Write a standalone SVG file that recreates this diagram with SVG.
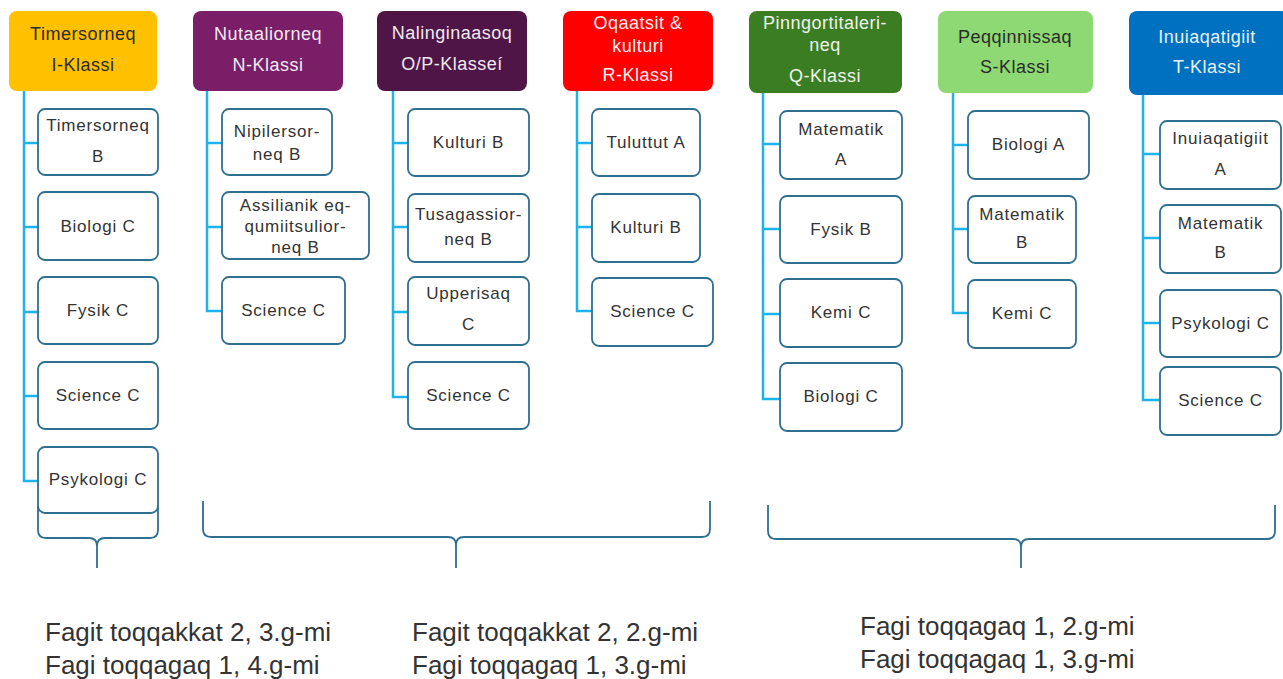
<svg xmlns="http://www.w3.org/2000/svg" width="1283" height="679" viewBox="0 0 1283 679">
<style>
.hd{stroke:none}
.ht{font-family:"Liberation Sans",Arial,sans-serif;font-size:18px;letter-spacing:0.5px;text-anchor:middle}
.hl{fill:#F0EAF0}
.hk{fill:#2b2b2b}
.bx{fill:#fff;stroke:#2F6F8F;stroke-width:1.8}
.ct{font-family:"Liberation Sans",Arial,sans-serif;font-size:17px;letter-spacing:0.8px;fill:#333;text-anchor:middle}
.bus{fill:none;stroke:#1DB4EE;stroke-width:2.5}
.br{fill:none;stroke:#2F6F8F;stroke-width:1.8}
.ft{font-family:"Liberation Sans",Arial,sans-serif;font-size:26px;fill:#333}
</style>
<rect width="1283" height="679" fill="#fff"/>

<g id="connectors">
<path class="bus" d="M24,91V481H38M24,143H38M24,227H38M24,312H38M24,396H38"/>
<path class="bus" d="M207,91V311H222M207,143H222M207,227H222"/>
<path class="bus" d="M393,91V397H408M393,143H408M393,227H408M393,312H408"/>
<path class="bus" d="M577,91V311H592M577,143H592M577,227H592"/>
<path class="bus" d="M763,93V399H780M763,144H780M763,229H780M763,314H780"/>
<path class="bus" d="M953,93V313H968M953,145H968M953,229H968"/>
<path class="bus" d="M1143,95V400H1160M1143,154H1160M1143,238H1160M1143,323H1160"/>
</g>

<g id="h1"><rect class="hd" x="9" y="11" width="148" height="80" rx="8" fill="#FFC000"/>
<text class="ht hk" x="83" y="40">Timersorneq</text><text class="ht hk" x="83" y="71">I-Klassi</text></g>
<g id="h2"><rect class="hd" x="193" y="11" width="150" height="80" rx="8" fill="#7A1E68"/>
<text class="ht hl" x="268" y="40">Nutaaliorneq</text><text class="ht hl" x="268" y="71">N-Klassi</text></g>
<g id="h3"><rect class="hd" x="377" y="11" width="150" height="80" rx="8" fill="#4F1547"/>
<text class="ht hl" x="452" y="39">Nalinginaasoq</text><text class="ht hl" x="452" y="70">O/P-Klasseí</text></g>
<g id="h4"><rect class="hd" x="563" y="11" width="150" height="80" rx="8" fill="#FF0000"/>
<text class="ht" fill="#FFEDED" x="638" y="29">Oqaatsit &amp;</text><text class="ht" fill="#FFEDED" x="638" y="52">kulturi</text><text class="ht" fill="#FFEDED" x="638" y="81">R-Klassi</text></g>
<g id="h5"><rect class="hd" x="749" y="11" width="153" height="82" rx="8" fill="#3B7D23"/>
<text class="ht" fill="#EEF4EA" x="825" y="29">Pinngortitaleri-</text><text class="ht" fill="#EEF4EA" x="825" y="51">neq</text><text class="ht" fill="#EEF4EA" x="825" y="82">Q-Klassi</text></g>
<g id="h6"><rect class="hd" x="938" y="11" width="155" height="82" rx="8" fill="#8ED973"/>
<text class="ht hk" x="1015" y="43">Peqqinnissaq</text><text class="ht hk" x="1015" y="73">S-Klassi</text></g>
<g id="h7"><rect class="hd" x="1129" y="11" width="160" height="84" rx="8" fill="#0070C0"/>
<text class="ht" fill="#E6F0FA" x="1207" y="43">Inuiaqatigiit</text><text class="ht" fill="#E6F0FA" x="1207" y="73">T-Klassi</text></g>

<g id="c1a"><rect class="bx" x="38" y="109" width="120" height="66" rx="7"/><text class="ct" x="98" y="131">Timersorneq</text><text class="ct" x="98" y="162">B</text></g>
<g id="c1b"><rect class="bx" x="38" y="192" width="120" height="68" rx="7"/><text class="ct" x="98" y="232">Biologi C</text></g>
<g id="c1c"><rect class="bx" x="38" y="277" width="120" height="67" rx="7"/><text class="ct" x="98" y="316">Fysik C</text></g>
<g id="c1d"><rect class="bx" x="38" y="362" width="120" height="67" rx="7"/><text class="ct" x="98" y="401">Science C</text></g>
<g id="c1e"><rect class="bx" x="38" y="447" width="120" height="66" rx="7"/><text class="ct" x="98" y="485">Psykologi C</text></g>

<g id="c2a"><rect class="bx" x="222" y="109" width="110" height="66" rx="7"/><text class="ct" x="277" y="137">Nipilersor-</text><text class="ct" x="277" y="160">neq B</text></g>
<g id="c2b"><rect class="bx" x="222" y="192" width="147" height="67" rx="7"/><text class="ct" x="295.5" y="211">Assilianik eq-</text><text class="ct" x="295.5" y="232">qumiitsulior-</text><text class="ct" x="295.5" y="253">neq B</text></g>
<g id="c2c"><rect class="bx" x="222" y="277" width="123" height="67" rx="7"/><text class="ct" x="283.5" y="316">Science C</text></g>

<g id="c3a"><rect class="bx" x="408" y="109" width="121" height="67" rx="7"/><text class="ct" x="468.5" y="148">Kulturi B</text></g>
<g id="c3b"><rect class="bx" x="408" y="194" width="121" height="68" rx="7"/><text class="ct" x="468.5" y="220">Tusagassior-</text><text class="ct" x="468.5" y="245">neq B</text></g>
<g id="c3c"><rect class="bx" x="408" y="277" width="121" height="68" rx="7"/><text class="ct" x="468.5" y="299">Upperisaq</text><text class="ct" x="468.5" y="330">C</text></g>
<g id="c3d"><rect class="bx" x="408" y="362" width="121" height="67" rx="7"/><text class="ct" x="468.5" y="401">Science C</text></g>

<g id="c4a"><rect class="bx" x="592" y="109" width="108" height="67" rx="7"/><text class="ct" x="646" y="148">Tuluttut A</text></g>
<g id="c4b"><rect class="bx" x="592" y="194" width="108" height="68" rx="7"/><text class="ct" x="646" y="233">Kulturi B</text></g>
<g id="c4c"><rect class="bx" x="592" y="278" width="121" height="68" rx="7"/><text class="ct" x="652.5" y="317">Science C</text></g>

<g id="c5a"><rect class="bx" x="780" y="111" width="122" height="68" rx="7"/><text class="ct" x="841" y="135">Matematik</text><text class="ct" x="841" y="165">A</text></g>
<g id="c5b"><rect class="bx" x="780" y="196" width="122" height="67" rx="7"/><text class="ct" x="841" y="235">Fysik B</text></g>
<g id="c5c"><rect class="bx" x="780" y="279" width="122" height="68" rx="7"/><text class="ct" x="841" y="318">Kemi C</text></g>
<g id="c5d"><rect class="bx" x="780" y="363" width="122" height="68" rx="7"/><text class="ct" x="841" y="402">Biologi C</text></g>

<g id="c6a"><rect class="bx" x="968" y="111" width="121" height="68" rx="7"/><text class="ct" x="1028.5" y="150">Biologi A</text></g>
<g id="c6b"><rect class="bx" x="968" y="196" width="108" height="67" rx="7"/><text class="ct" x="1022" y="220">Matematik</text><text class="ct" x="1022" y="248">B</text></g>
<g id="c6c"><rect class="bx" x="968" y="280" width="108" height="68" rx="7"/><text class="ct" x="1022" y="319">Kemi C</text></g>

<g id="c7a"><rect class="bx" x="1160" y="121" width="121" height="68" rx="7"/><text class="ct" x="1220.5" y="144">Inuiaqatigiit</text><text class="ct" x="1220.5" y="175">A</text></g>
<g id="c7b"><rect class="bx" x="1160" y="205" width="121" height="68" rx="7"/><text class="ct" x="1220.5" y="229">Matematik</text><text class="ct" x="1220.5" y="258">B</text></g>
<g id="c7c"><rect class="bx" x="1160" y="290" width="121" height="67" rx="7"/><text class="ct" x="1220.5" y="329">Psykologi C</text></g>
<g id="c7d"><rect class="bx" x="1160" y="367" width="121" height="68" rx="7"/><text class="ct" x="1220.5" y="406">Science C</text></g>

<g id="braces">
<path class="br" d="M38,506V530Q38,538 46,538H89Q97,538 97,546V568M97,546Q97,538 105,538H150Q158,538 158,530V506"/>
<path class="br" d="M203,501V529Q203,537 211,537H448Q456,537 456,545V568M456,545Q456,537 464,537H702Q710,537 710,529V501"/>
<path class="br" d="M768,505V531Q768,539 776,539H1013Q1021,539 1021,547V568M1021,547Q1021,539 1029,539H1267Q1275,539 1275,531V505"/>
</g>

<g id="label1"><text class="ft" x="45" y="641">Fagit toqqakkat 2, 3.g-mi</text><text class="ft" x="45" y="674">Fagi toqqagaq 1, 4.g-mi</text></g>
<g id="label2"><text class="ft" x="412" y="641">Fagit toqqakkat 2, 2.g-mi</text><text class="ft" x="412" y="674">Fagi toqqagaq 1, 3.g-mi</text></g>
<g id="label3"><text class="ft" x="860" y="635">Fagi toqqagaq 1, 2.g-mi</text><text class="ft" x="860" y="668">Fagi toqqagaq 1, 3.g-mi</text></g>
</svg>
